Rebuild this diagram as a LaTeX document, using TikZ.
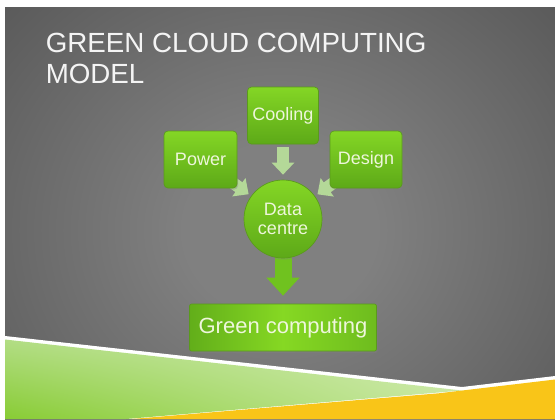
\documentclass[tikz,border=0pt]{standalone}
\usepackage{fontspec}
\setmainfont{Liberation Sans}
\usetikzlibrary{arrows.meta,shadows,calc,shadings}
\definecolor{bgA}{HTML}{808080}
\definecolor{bgB}{HTML}{5C5C5C}
\definecolor{bgC}{HTML}{3D3D3D}
\definecolor{titlecol}{HTML}{F4F4F4}
\definecolor{boxtop}{HTML}{84D625}
\definecolor{boxbot}{HTML}{5DA918}
\definecolor{boxedge}{HTML}{5A9A1C}
\definecolor{labeltext}{HTML}{EEF6DC}
\definecolor{palearrow}{HTML}{B4D898}
\definecolor{bigarrow}{HTML}{70C21F}
\definecolor{gcleft}{HTML}{62AE1A}
\definecolor{gcmid}{HTML}{86D823}
\definecolor{gcright}{HTML}{6EBC1E}
\definecolor{grUL}{HTML}{B2DD84}
\definecolor{grUR}{HTML}{D3ECB6}
\definecolor{grLL}{HTML}{88CC34}
\definecolor{grLR}{HTML}{C6E79E}
\definecolor{yell}{HTML}{F9C518}
\pgfdeclareradialshading{slidebg}{\pgfpoint{0bp}{0bp}}{color(0bp)=(bgA); color(8bp)=(bgA); color(30bp)=(bgB); color(50bp)=(bgC)}
\pgfdeclarelayer{bglayer}
\pgfdeclarelayer{arrowlayer}
\pgfsetlayers{bglayer,arrowlayer,main}
\begin{document}
\begin{tikzpicture}[x=0.75pt,y=-0.75pt,
  titletext/.style={anchor=base west, inner sep=0pt, text=titlecol, font=\fontsize{20.8}{25}\selectfont},
  gbox/.style={rectangle, rounded corners=3pt, draw=boxedge, line width=0.5pt,
    top color=boxtop, bottom color=boxbot, text=labeltext, inner sep=0pt,
    minimum height=42.75pt, font=\fontsize{13.5}{16}\selectfont,
    drop shadow={opacity=0.35, shadow xshift=0.8pt, shadow yshift=-1.2pt}},
  dcnode/.style={circle, minimum size=58.5pt, inner sep=0pt, draw=boxedge, line width=0.5pt,
    top color=boxtop, bottom color=boxbot, text=labeltext, align=center,
    font=\fontsize{13.5}{14.25}\selectfont,
    drop shadow={opacity=0.3, shadow xshift=0.8pt, shadow yshift=-1.2pt}},
  gcbox/.style={rectangle, rounded corners=1.5pt, draw=boxedge, line width=0.5pt,
    left color=gcleft, right color=gcright, middle color=gcmid, text=labeltext,
    minimum width=140.25pt, minimum height=35.25pt, inner sep=0pt,
    font=\fontsize{16.5}{19}\selectfont,
    drop shadow={opacity=0.4, shadow xshift=0.8pt, shadow yshift=-1.5pt}},
  palearrow/.style={draw=palearrow, line width=9pt, -{Triangle[length=9pt,width=16.5pt]}},
  bigarrowstyle/.style={draw=bigarrow, line width=12.75pt, -{Triangle[length=13.5pt,width=24pt]}}
]
\useasboundingbox (0,0) rectangle (555,419);
\begin{pgfonlayer}{bglayer}
  \fill[white] (0,0) rectangle (555,419);
  \begin{scope}
    \clip (5,7) rectangle (555,419);
    \shade[shading=slidebg] (-20,-40) rectangle (580,500);
    \fill[white] (5,336) -- (462,387) -- (555,376) -- (555,419) -- (5,419) -- cycle;
    \shade[upper left=grUL, upper right=grUR, lower left=grLL, lower right=grLR]
      (5,339.5) -- (462,390.5) -- (126,419) -- (5,419) -- cycle;
    \fill[yell] (131.5,419) -- (438.6,393.3) -- (555,379.5) -- (555,419) -- cycle;
  \end{scope}
\end{pgfonlayer}

\node[titletext] (t1) at (45.5,52) {GREEN CLOUD COMPUTING};
\node[titletext] (t2) at (45.5,83) {MODEL};

\node[gbox, minimum width=53.25pt] (co) at (283,115.5) {Cooling};
\node[gbox, minimum width=54.75pt] (pw) at (200.5,159.5) {Power};
\node[gbox, minimum width=54pt] (ds) at (366,159.5) {Design};
\node[dcnode] (dc) at (283,219) {Data\\centre};
\node[gcbox] (gc) at (283,327.5) {Green computing};

\begin{pgfonlayer}{arrowlayer}
  \draw[palearrow, shorten >=31.8pt] (pw.center) -- (dc.center);
  \draw[palearrow, shorten >=31.8pt] (ds.center) -- (dc.center);
  \draw[palearrow, shorten <=2.25pt, shorten >=3.75pt] (co.south) -- (dc.north);
  \draw[bigarrowstyle, shorten >=6pt] (dc.center) -- (gc.north);
\end{pgfonlayer}
\end{tikzpicture}
\end{document}
